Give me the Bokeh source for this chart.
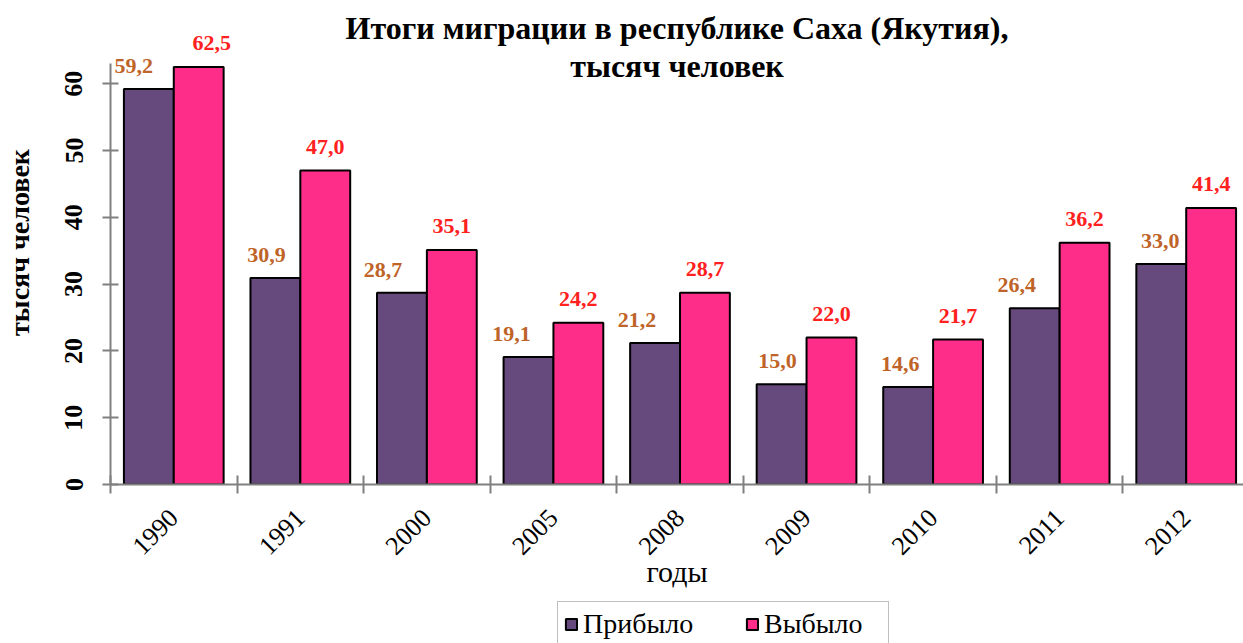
import numpy as np
from bokeh.plotting import figure
from bokeh.layouts import column
from bokeh.models import (ColumnDataSource, Range1d, FixedTicker, Label, Legend, LegendItem)
from bokeh.embed import file_html
from bokeh.resources import INLINE
from bokeh.transform import dodge
from bokeh.core.properties import value

# ---- data ----
years = ["1990", "1991", "2000", "2005", "2008", "2009", "2010", "2011", "2012"]
arrived = [59.2, 30.9, 28.7, 19.1, 21.2, 15.0, 14.6, 26.4, 33.0]
departed = [62.5, 47.0, 35.1, 24.2, 28.7, 22.0, 21.7, 36.2, 41.4]
y_ticks = [0, 10, 20, 30, 40, 50, 60]
series_names = ["Прибыло", "Выбыло"]
title_lines = ["Итоги миграции в республике Саха (Якутия),", "тысяч человек"]
x_axis_title = "годы"
y_axis_title = "тысяч человек"

# ---- styles ----
PURPLE = "#674A7D"
PINK = "#FF2D8A"
BROWN = "#BF6428"
RED = "#FF2020"
AXIS = "#808080"
FONT = "Liberation Serif"
# horizontal nudges (px) of the value labels, as placed in the original
arr_label_dx = [-15, -9, -19, -17, -18, -4, -8, -18, -1]
dep_label_dx = [13, 0, 0, 0, 0, 0, 0, 0, 0]

W = 1243
H_MAIN, H_LEG = 600, 43
LEFT, BOTTOM = 106, 116
PX_X = 127.0    # pixels per category
PX_Y = 6.68     # pixels per unit

pos = list(range(1, len(years) + 1))
fmt = lambda v: f"{v:.1f}".replace(".", ",")
src = ColumnDataSource(dict(
    x=pos, arr=arrived, dep=departed,
    arr_lbl=[fmt(v) for v in arrived],
    dep_lbl=[fmt(v) for v in departed],
    arr_dx=arr_label_dx, dep_dx=dep_label_dx,
))

x_end = 0.5 + (W - LEFT) / PX_X
y_end = (H_MAIN - BOTTOM) / PX_Y
p = figure(width=W, height=H_MAIN, output_backend="svg", toolbar_location=None,
           x_range=Range1d(0.5, x_end), y_range=Range1d(0, y_end),
           min_border_left=LEFT, min_border_right=0, min_border_top=0,
           min_border_bottom=BOTTOM)
p.outline_line_color = None
p.xgrid.grid_line_color = None
p.ygrid.grid_line_color = None

BW = 0.394
OFF = 0.197
bar1 = dict(fill_color=PURPLE, line_color="black", line_width=2)
bar2 = dict(fill_color=PINK, line_color="black", line_width=2)
p.vbar(x=dodge("x", -OFF), top="arr", width=BW, source=src, **bar1)
p.vbar(x=dodge("x", OFF), top="dep", width=BW, source=src, **bar2)

p.text(x=dodge("x", -OFF), y="arr", text="arr_lbl", source=src,
       text_font=value(FONT), text_font_style="bold", text_font_size="22px",
       text_color=BROWN, text_align="center", text_baseline="middle",
       x_offset="arr_dx", y_offset=-23)
p.text(x=dodge("x", OFF), y="dep", text="dep_lbl", source=src,
       text_font=value(FONT), text_font_style="bold", text_font_size="22px",
       text_color=RED, text_align="center", text_baseline="middle",
       x_offset="dep_dx", y_offset=-24)

# title
xc = (0.5 + x_end) / 2
for line, yv in zip(title_lines, [68.4, 62.7]):
    p.add_layout(Label(x=xc, y=yv, text=line, text_align="center",
                       text_baseline="middle", text_font=FONT,
                       text_font_style="bold", text_font_size="32px",
                       text_color="black"))

# y axis
ya = p.yaxis[0]
ya.ticker = FixedTicker(ticks=y_ticks)
ya.bounds = (0, 63)
ya.major_label_orientation = "vertical"
ya.major_label_text_font = FONT
ya.major_label_text_font_style = "bold"
ya.major_label_text_font_size = "26px"
ya.major_label_text_color = "black"
ya.major_tick_in = 8
ya.major_tick_out = 8
ya.major_tick_line_color = AXIS
ya.major_tick_line_width = 2
ya.minor_tick_line_color = None
ya.axis_line_color = AXIS
ya.axis_line_width = 2
ya.major_label_standoff = 20
ya.axis_label = y_axis_title
ya.axis_label_text_font = FONT
ya.axis_label_text_font_style = "bold"
ya.axis_label_text_font_size = "28px"
ya.axis_label_text_color = "black"
ya.axis_label_standoff = 28

# x axis
xa = p.xaxis[0]
xa.ticker = FixedTicker(ticks=pos, minor_ticks=[x - 0.5 for x in pos] + [pos[-1] + 0.5])
xa.major_label_overrides = {x: y for x, y in zip(pos, years)}
xa.major_tick_line_color = None
xa.major_tick_in = 0
xa.major_tick_out = 0
xa.minor_tick_in = 9
xa.minor_tick_out = 9
xa.minor_tick_line_color = AXIS
xa.minor_tick_line_width = 2
xa.axis_line_color = AXIS
xa.axis_line_width = 2
xa.major_label_orientation = np.pi / 4
xa.major_label_text_font = FONT
xa.major_label_text_font_size = "26px"
xa.major_label_text_color = "black"
xa.major_label_standoff = 20
xa.axis_label = x_axis_title
xa.axis_label_text_font = FONT
xa.axis_label_text_font_style = "normal"
xa.axis_label_text_font_size = "30px"
xa.axis_label_text_color = "black"
xa.axis_label_standoff = -10

# legend strip (frame is aligned with the main plot's frame by the column)
pl = figure(width=W, height=H_LEG, output_backend="svg", toolbar_location=None,
            x_axis_location=None, y_axis_location=None,
            min_border_left=0, min_border_right=0, min_border_top=0, min_border_bottom=0)
pl.outline_line_color = None
pl.xgrid.grid_line_color = None
pl.ygrid.grid_line_color = None
l1 = pl.vbar(x="x", top="arr", width=BW, source=src, visible=False, **bar1)
l2 = pl.vbar(x="x", top="dep", width=BW, source=src, visible=False, **bar2)
legend = Legend(items=[LegendItem(label=series_names[0], renderers=[l1]),
                       LegendItem(label=series_names[1], renderers=[l2])],
                orientation="horizontal", location=(553 - LEFT, -4),
                glyph_width=14, glyph_height=14, label_standoff=5, spacing=44,
                padding=6, label_width=118, margin=0,
                inactive_fill_alpha=0,
                border_line_color="#7f7f7f", border_line_width=1.5,
                label_text_font=FONT, label_text_font_size="28px",
                label_text_color="black",
                background_fill_color="white", background_fill_alpha=1)
pl.add_layout(legend)

open("out.html", "w").write(file_html(column(p, pl, spacing=0), INLINE))
